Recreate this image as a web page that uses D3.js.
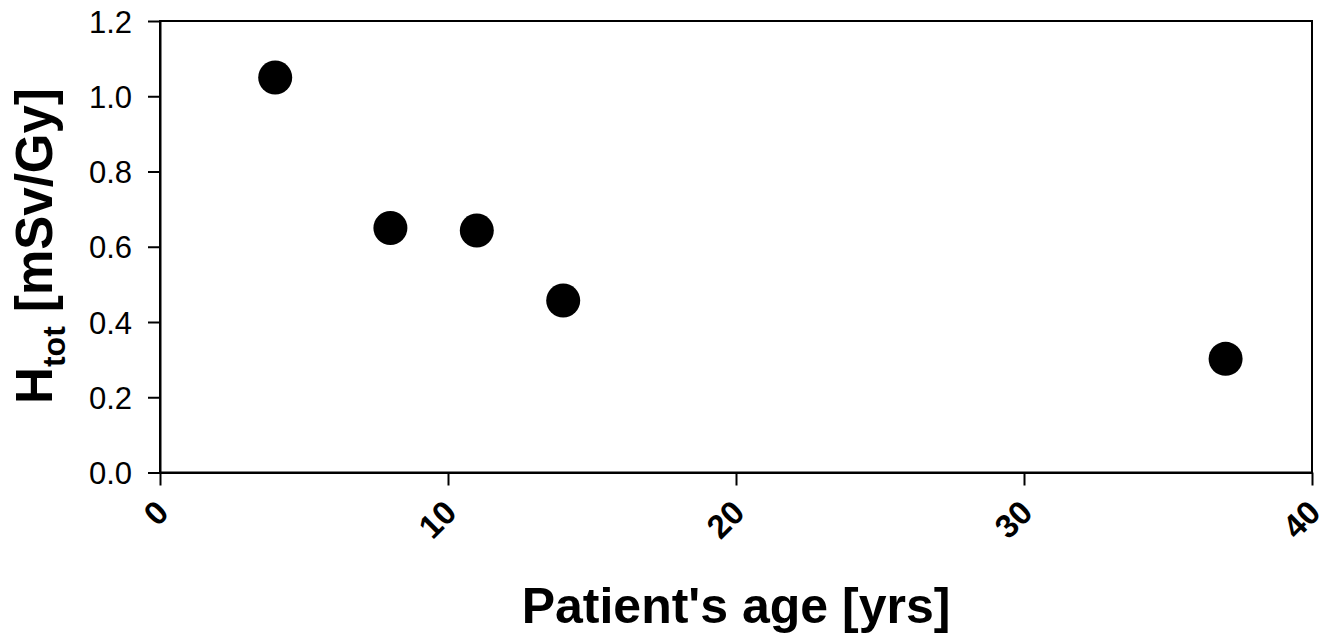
<!DOCTYPE html>
<html>
<head>
<meta charset="utf-8">
<script src="https://cdn.jsdelivr.net/npm/d3@7"></script>
<style>
  body { margin: 0; background: #fff; }
  text { font-family: "Liberation Sans", Arial, sans-serif; }
</style>
</head>
<body>
<svg id="chart" width="1337" height="639"></svg>
<script>
const ages = [4, 8, 11, 14, 37];
const hTot = [1.05, 0.65, 0.643, 0.457, 0.302];
const xTicks = [0, 10, 20, 30, 40];
const yTicks = [0.0, 0.2, 0.4, 0.6, 0.8, 1.0, 1.2];

const svg = d3.select("#chart");
const margin = { left: 160, top: 21, right: 1312, bottom: 472.5 };

const x = d3.scaleLinear().domain([0, 40]).range([margin.left, margin.right]);
const y = d3.scaleLinear().domain([0, 1.2]).range([margin.bottom, margin.top]);

// frame
svg.append("rect")
  .attr("x", margin.left).attr("y", margin.top)
  .attr("width", margin.right - margin.left)
  .attr("height", margin.bottom - margin.top)
  .attr("fill", "none").attr("stroke", "#000").attr("stroke-width", 2);

const yAxis = svg.append("g")
  .attr("transform", `translate(${margin.left},0)`)
  .call(d3.axisLeft(y).tickValues(yTicks).tickFormat(d3.format(".1f")).tickSize(12).tickSizeOuter(0));
yAxis.select(".domain").attr("stroke-width", 2);
yAxis.selectAll(".tick line").attr("stroke-width", 2);
yAxis.selectAll(".tick text")
  .attr("x", -28)
  .attr("dy", "0.36em")
  .style("font-size", "31px")
  .style("font-family", "Liberation Sans, Arial, sans-serif")
  .attr("fill", "#000");

const xAxis = svg.append("g")
  .attr("transform", `translate(0,${margin.bottom})`)
  .call(d3.axisBottom(x).tickValues(xTicks).tickSize(13).tickSizeOuter(0));
xAxis.select(".domain").attr("stroke-width", 2);
xAxis.selectAll(".tick line").attr("stroke-width", 2);
xAxis.selectAll(".tick text")
  .attr("y", 0).attr("dy", 0)
  .attr("text-anchor", "end")
  .attr("transform", "translate(10,42) rotate(-45)")
  .style("font-size", "33px")
  .style("font-weight", "bold")
  .style("font-family", "Liberation Sans, Arial, sans-serif")
  .attr("fill", "#000");

// points
svg.append("g")
  .selectAll("circle")
  .data(ages.map((a, i) => ({ age: a, h: hTot[i] })))
  .enter()
  .append("circle")
  .attr("cx", d => x(d.age))
  .attr("cy", d => y(d.h))
  .attr("r", 17)
  .attr("fill", "#000");

// axis titles
svg.append("text")
  .attr("x", 736)
  .attr("y", 623)
  .attr("text-anchor", "middle")
  .style("font-size", "50px")
  .style("font-weight", "bold")
  .text("Patient's age [yrs]");

const yt = svg.append("text")
  .attr("transform", "translate(52,246) rotate(-90)")
  .attr("text-anchor", "middle")
  .style("font-size", "51px")
  .style("font-weight", "bold");
yt.append("tspan").text("H");
yt.append("tspan").attr("dy", 13).style("font-size", "32px").text("tot");
yt.append("tspan").attr("dy", -13).text(" [mSv/Gy]");
</script>
</body>
</html>
